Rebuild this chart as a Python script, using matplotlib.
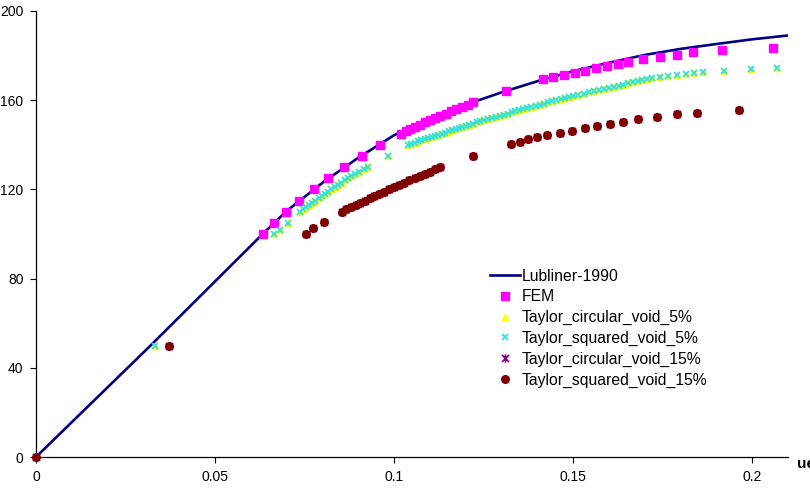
import matplotlib
matplotlib.use("Agg")
import matplotlib.pyplot as plt
from matplotlib.path import Path

plt.rcParams['font.family'] = ['Liberation Sans', 'DejaVu Sans']

# Lubliner-1990 reference curve
lub_x = [0, 0.032, 0.0633, 0.07, 0.08, 0.09, 0.10, 0.11, 0.12, 0.13, 0.14,
         0.15, 0.16, 0.17, 0.18, 0.19, 0.20, 0.211]
lub_y = [0, 50, 100, 110.3, 123, 134.2, 144.3, 152, 158, 163.5, 168.5,
         173, 176.8, 180.3, 183, 185.2, 187.3, 189.2]

# FEM
fem_x = [0.0633, 0.0665, 0.0698, 0.0735, 0.0775, 0.0815, 0.0860, 0.0911, 0.0961,
         0.1019, 0.1032, 0.1045, 0.1058, 0.1072, 0.1086, 0.1100, 0.1114, 0.1129,
         0.1144, 0.1159, 0.1174, 0.1189, 0.1205, 0.1221, 0.1313,
         0.1415, 0.1445, 0.1475, 0.1504, 0.1534, 0.1564, 0.1594, 0.1624, 0.1654,
         0.1696, 0.1743, 0.1790, 0.1836, 0.1916, 0.2058]
fem_y = [100, 105, 110, 115, 120, 125, 130, 135, 140,
         145, 146, 147, 148, 149, 150, 151, 152, 153,
         154, 155, 156, 157, 158, 159, 164,
         169.5, 170.3, 171.2, 172.2, 173.3, 174.3, 175.2, 176.2, 177.1,
         178.3, 179.4, 180.4, 181.5, 182.5, 183.5]

# Taylor, 5 % void fraction (circular and squared voids nearly coincide)
t5_x = [0, 0.0332, 0.0665, 0.0680, 0.0703,
        0.0737, 0.0746, 0.0754, 0.0763, 0.0771, 0.0780, 0.0789, 0.0798, 0.0807,
        0.0816, 0.0825, 0.0834, 0.0843, 0.0853, 0.0862, 0.0872, 0.0881, 0.0891,
        0.0903, 0.0915, 0.0928, 0.0984,
        0.1040, 0.1047, 0.1057, 0.1066, 0.1076, 0.1085, 0.1095, 0.1105, 0.1114,
        0.1124, 0.1133, 0.1143, 0.1153, 0.1162, 0.1172, 0.1181, 0.1191, 0.1201,
        0.1210, 0.1220, 0.1231, 0.1241, 0.1252, 0.1263, 0.1274, 0.1285, 0.1296,
        0.1306, 0.1317, 0.1328, 0.1339, 0.1350, 0.1360, 0.1372, 0.1383, 0.1395,
        0.1407, 0.1418, 0.1430, 0.1442, 0.1453, 0.1465, 0.1477, 0.1488, 0.1500,
        0.1514, 0.1529, 0.1543, 0.1557, 0.1571, 0.1586, 0.1600, 0.1613, 0.1627,
        0.1640, 0.1653, 0.1667, 0.1680, 0.1693, 0.1707,
        0.1720, 0.1743, 0.1766, 0.1790, 0.1814, 0.1838, 0.1862, 0.1922, 0.1996,
        0.2069]
t5_y = [0, 50, 100, 102, 105,
        110, 111, 112, 113, 114, 115, 116, 117, 118,
        119, 120, 121, 122, 123, 124, 125, 126, 127,
        128, 129, 130, 135,
        140, 140.5, 141, 141.5, 142, 142.5, 143, 143.5, 144,
        144.5, 145, 145.5, 146, 146.5, 147, 147.5, 148, 148.5,
        149, 149.5, 150, 150.5, 151, 151.5, 152, 152.5, 153,
        153.5, 154, 154.5, 155, 155.5, 156, 156.5, 157, 157.5,
        158, 158.5, 159, 159.5, 160, 160.5, 161, 161.5, 162,
        162.5, 163, 163.5, 164, 164.5, 165, 165.5, 166, 166.5,
        167, 167.5, 168, 168.5, 169, 169.5,
        170, 170.5, 171, 171.4, 171.9, 172.3, 172.8, 173.2, 174,
        174.3]

# Taylor, 15 % void fraction (circular and squared voids nearly coincide)
t15_x = [0, 0.0372, 0.0754, 0.0773, 0.0803,
         0.0854, 0.0867, 0.0880, 0.0893, 0.0906, 0.0919, 0.0932, 0.0945, 0.0959,
         0.0973, 0.0987, 0.1001, 0.1015, 0.1029, 0.1043, 0.1057, 0.1071, 0.1085,
         0.1099, 0.1113, 0.1128, 0.1220,
         0.1327, 0.1352, 0.1375, 0.1399, 0.1427, 0.1462, 0.1496, 0.1532, 0.1568,
         0.1603, 0.1639, 0.1680, 0.1734, 0.1790, 0.1846, 0.1963]
t15_y = [0, 50, 100, 102.5, 105.3,
         110, 111, 112, 113, 114, 115, 116, 117, 118,
         119, 120, 121, 122, 123, 124, 125, 126, 127,
         128, 129, 130, 135,
         140.4, 141.4, 142.4, 143.4, 144.5, 145.4, 146.3, 147.4, 148.4,
         149.5, 150.4, 151.4, 152.5, 153.7, 154.4, 155.5]

# x with a vertical bar, like the spreadsheet "star" marker
star = Path([(-1, -1), (1, 1), (-1, 1), (1, -1), (0, -1.2), (0, 1.2)],
            [Path.MOVETO, Path.LINETO, Path.MOVETO, Path.LINETO, Path.MOVETO, Path.LINETO])

fig = plt.figure(figsize=(8.1, 4.94), dpi=100)
ax = fig.add_axes([36 / 810, 37 / 494, 752 / 810, 446 / 494])

ax.plot(lub_x, lub_y, color='#000080', lw=1.9, label='Lubliner-1990', zorder=2)
ax.plot(fem_x, fem_y, ls='none', marker='s', ms=5.5, color='#FF00FF', mec='#FF00FF',
        label='FEM', clip_on=False, zorder=3)
ax.plot(t5_x, t5_y, ls='none', marker='^', ms=5, color='#FFFF00', mec='#FFFF00',
        label='Taylor_circular_void_5%', clip_on=False, zorder=3)
ax.plot(t5_x, t5_y, ls='none', marker='x', ms=5, mew=1.3, color='#33E0E0',
        label='Taylor_squared_void_5%', clip_on=False, zorder=4)
ax.plot(t15_x, t15_y, ls='none', marker=star, ms=6, mew=1.2, color='#800080',
        mec='#800080', label='Taylor_circular_void_15%', clip_on=False, zorder=3)
ax.plot(t15_x, t15_y, ls='none', marker='o', ms=5.5, color='#800000', mec='#800000',
        label='Taylor_squared_void_15%', clip_on=False, zorder=4)

ax.set_xlim(0, 0.21)
ax.set_ylim(0, 200)
ax.set_xticks([0, 0.05, 0.1, 0.15, 0.2])
ax.set_xticklabels(['0', '0.05', '0.1', '0.15', '0.2'])
ax.set_yticks([0, 40, 80, 120, 160, 200])
ax.tick_params(labelsize=10, length=4, width=0.8, pad=5)
for s in ['top', 'right']:
    ax.spines[s].set_visible(False)
for s in ['left', 'bottom']:
    ax.spines[s].set_linewidth(0.9)

fig.text(797 / 810, 1 - 464 / 494, 'ueq', fontsize=11, fontweight='bold',
         ha='left', va='center')

ax.legend(loc='upper left', bbox_to_anchor=(0.604, 0.422), frameon=False,
          fontsize=11.3, handlelength=1.9, handletextpad=0.1, labelspacing=0.36,
          borderaxespad=0, borderpad=0)

plt.savefig('out.png', dpi=100)
